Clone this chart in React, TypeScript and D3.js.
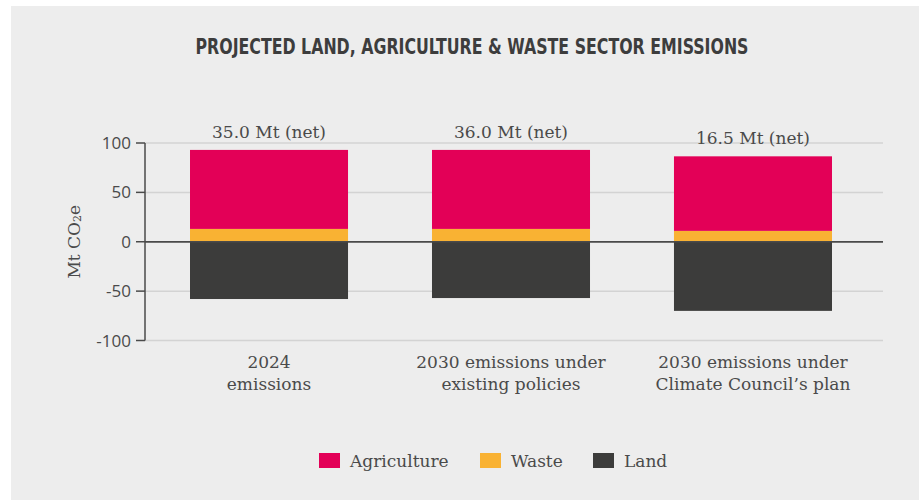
import React from "react";
import * as d3 from "d3";

const categoryLines: string[][] = [
  ["2024", "emissions"],
  ["2030 emissions under", "existing policies"],
  ["2030 emissions under", "Climate Council\u2019s plan"],
];
const categories = ["2024 emissions", "2030 existing policies", "2030 Climate Council plan"];
const agriculture = [80, 80, 75.5];
const waste = [13, 13, 11];
const land = [-58, -57, -70];
const netLabels = ["35.0 Mt (net)", "36.0 Mt (net)", "16.5 Mt (net)"];
const yTicks = [100, 50, 0, -50, -100];
const seriesNames = ["Agriculture", "Waste", "Land"];
const seriesColors = ["#E30057", "#F9B233", "#3C3C3B"];

const W = 919;
const H = 500;
const slab = "'DejaVu Serif', serif";
const sans = "'Open Sans', 'Noto Sans', sans-serif";
const textColor = "#4a4a4a";

export default function App() {
  const rows = categories.map((c, i) => ({
    cat: c,
    Agriculture: agriculture[i],
    Waste: waste[i],
    Land: land[i],
  }));
  const stack = d3
    .stack<any>()
    .keys(["Waste", "Agriculture", "Land"])
    .offset(d3.stackOffsetDiverging);
  const stacked = stack(rows);

  const x = d3
    .scaleBand<string>()
    .domain(categories)
    .range([148, 874])
    .paddingInner(0.347)
    .paddingOuter(0.1736);
  const y = d3.scaleLinear().domain([-100, 100]).range([340.5, 143]);
  const axisX = 145;
  const gridEnd = 883;
  const colorOf = (k: string) => seriesColors[seriesNames.indexOf(k)];

  return (
    <svg
      width={W}
      height={H}
      style={{ position: "absolute", left: 0, top: 0, display: "block" }}
    >
      <rect x={0} y={0} width={W} height={H} fill="#ffffff" />
      <rect x={11} y={6} width={W - 11} height={H - 6} fill="#EDEDED" />
      <text
        x={472}
        y={54}
        textAnchor="middle"
        fontFamily="'Liberation Sans Narrow', 'DejaVu Sans Condensed', sans-serif"
        fontWeight="bold"
        fontSize={20.5}
        fill="#3d3d3d"
        textLength={553}
        lengthAdjust="spacingAndGlyphs"
      >
        PROJECTED LAND, AGRICULTURE &amp; WASTE SECTOR EMISSIONS
      </text>

      {/* gridlines */}
      {yTicks.map((t) => (
        <line
          key={"g" + t}
          x1={axisX}
          x2={gridEnd}
          y1={y(t)}
          y2={y(t)}
          stroke={t === 0 ? "#4a4a4a" : "#d3d3d3"}
          strokeWidth={1.5}
        />
      ))}

      {/* bars */}
      {stacked.map((s) => (
        <g key={s.key} fill={colorOf(s.key)}>
          {s.map((d, i) => (
            <rect
              key={i}
              x={x(categories[i])}
              width={x.bandwidth()}
              y={y(Math.max(d[0], d[1]))}
              height={Math.abs(y(d[0]) - y(d[1]))}
            />
          ))}
        </g>
      ))}

      {/* zero line over bars */}
      <line
        x1={axisX}
        x2={gridEnd}
        y1={y(0)}
        y2={y(0)}
        stroke="#4a4a4a"
        strokeWidth={1.5}
      />

      {/* y axis */}
      <line
        x1={axisX}
        x2={axisX}
        y1={y(100)}
        y2={y(-100)}
        stroke="#4a4a4a"
        strokeWidth={1.5}
      />
      {yTicks.map((t) => (
        <g key={"t" + t}>
          <line
            x1={136}
            x2={axisX}
            y1={y(t)}
            y2={y(t)}
            stroke="#4a4a4a"
            strokeWidth={1.5}
          />
          <text
            x={131}
            y={y(t)}
            dy="0.36em"
            textAnchor="end"
            fontFamily={sans}
            fontSize={17}
            fill={textColor}
          >
            {t}
          </text>
        </g>
      ))}
      <text
        transform={`translate(80, ${y(0)}) rotate(-90)`}
        textAnchor="middle"
        fontFamily={slab}
        fontSize={17}
        fill={textColor}
      >
        Mt CO
        <tspan fontSize={11} dy={1}>
          2
        </tspan>
        <tspan dy={-1}>e</tspan>
      </text>

      {/* net labels */}
      {categories.map((c, i) => {
        const top = agriculture[i] + waste[i];
        return (
          <text
            key={"n" + i}
            x={(x(c) as number) + x.bandwidth() / 2}
            y={y(top) - 12}
            textAnchor="middle"
            fontFamily={slab}
            fontSize={17}
            fill={textColor}
          >
            {netLabels[i]}
          </text>
        );
      })}

      {/* category labels */}
      {categories.map((c, i) => (
        <text
          key={"c" + i}
          x={(x(c) as number) + x.bandwidth() / 2}
          y={368}
          textAnchor="middle"
          fontFamily={slab}
          fontSize={17}
          fill={textColor}
        >
          {categoryLines[i].map((ln, j) => (
            <tspan key={j} x={(x(c) as number) + x.bandwidth() / 2} dy={j === 0 ? 0 : 22}>
              {ln}
            </tspan>
          ))}
        </text>
      ))}

      {/* legend */}
      {seriesNames.map((n, i) => {
        const lx = [319, 480, 593][i];
        return (
          <g key={"l" + n}>
            <rect x={lx} y={453} width={21} height={15} fill={seriesColors[i]} />
            <text
              x={lx + 31}
              y={467}
              fontFamily={slab}
              fontSize={17}
              fill={textColor}
            >
              {n}
            </text>
          </g>
        );
      })}
    </svg>
  );
}
